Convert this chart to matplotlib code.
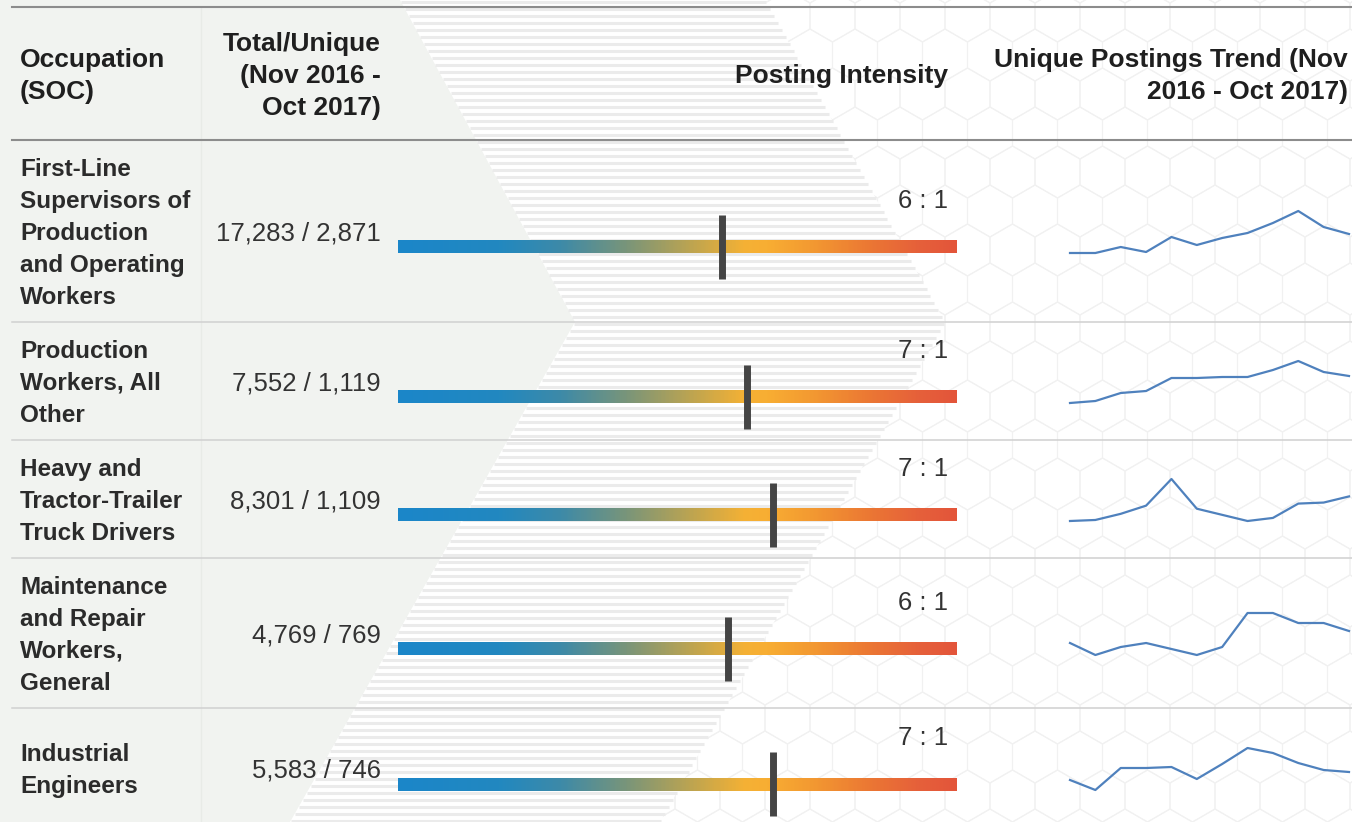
import numpy as np
import matplotlib.pyplot as plt
from matplotlib.colors import LinearSegmentedColormap
from matplotlib.patches import Polygon, RegularPolygon
from matplotlib.collections import PatchCollection

plt.rcParams['font.family'] = ['Liberation Sans', 'DejaVu Sans']

# ---- data ----
occupations = ["First-Line\nSupervisors of\nProduction\nand Operating\nWorkers",
               "Production\nWorkers, All\nOther",
               "Heavy and\nTractor-Trailer\nTruck Drivers",
               "Maintenance\nand Repair\nWorkers,\nGeneral",
               "Industrial\nEngineers"]
total_postings = [17283, 7552, 8301, 4769, 5583]
unique_postings = [2871, 1119, 1109, 769, 746]

months = ['Nov', 'Dec', 'Jan', 'Feb', 'Mar', 'Apr', 'May', 'Jun', 'Jul', 'Aug', 'Sep', 'Oct']
trend_supervisors = [209, 209, 221, 211, 241, 225, 239, 249, 269, 293, 261, 247]
trend_production = [71, 73, 81, 83, 96, 96, 97, 97, 104, 113, 102, 98]
trend_truck = [80, 81, 87, 95, 121, 92, 86, 80, 83, 97, 98, 104]
trend_maintenance = [58, 46, 54, 58, 52, 46, 54, 88, 88, 78, 78, 70]
trend_engineers = [50, 40, 62, 62, 63, 51, 66, 82, 77, 67, 60, 58]
trends = [trend_supervisors, trend_production, trend_truck, trend_maintenance, trend_engineers]

# ---- layout (pixels) ----
W, H = 1352, 822
row_edges = [140, 322, 440, 558, 708, 828]
intensity_limits = (-3.37, 12.82)   # ratio at left / right end of the gradient bar

HEAD = '#1f1f1f'
BODY = '#2b2b2b'
NUM = '#333333'


def px(pt):
    return pt * 100 / 72


def fig_rect(x0, y0, x1, y1):
    return [x0 / W, 1 - y1 / H, (x1 - x0) / W, (y1 - y0) / H]


def label(x, y, s, size, weight='normal', ha='left', color=BODY):
    # y is the visual middle of the capitals
    ax.text(x, y + 0.36 * px(size), s, fontsize=size, fontweight=weight,
            ha=ha, va='baseline', color=color)


fig = plt.figure(figsize=(W / 100, H / 100), dpi=100)
fig.patch.set_facecolor('white')
ax = fig.add_axes([0, 0, 1, 1])
ax.set_xlim(0, W)
ax.set_ylim(H, 0)
ax.axis('off')

# hexagon pattern on the right
hexes = []
for yc in np.arange(172 - 39 * 6, H + 60, 39):
    k = int(round((yc - 172) / 39))
    off = 22.5 if k % 2 == 0 else 0.0
    for xc in np.arange(off + 45 * 13, W + 45, 45):
        hexes.append(RegularPolygon((xc, yc), 6, radius=26, orientation=0))
ax.add_collection(PatchCollection(hexes, facecolor='none', edgecolor='#f1f1f1', linewidth=0.8))

# striped chevron band
ys = [0, 322, 822]
gray_edge = [400, 575, 290]
stripe_edge = [765, 945, 660]
band = list(zip(gray_edge, ys)) + list(zip(stripe_edge[::-1], ys[::-1]))
ax.add_patch(Polygon(band, closed=True, facecolor='white', edgecolor='none'))
for y in np.arange(2, H, 7):
    x0 = np.interp(y, ys, gray_edge)
    x1 = np.interp(y, ys, stripe_edge)
    ax.plot([x0, x1], [y, y], color='#ebebeb', lw=2.2, solid_capstyle='butt')

# solid gray panel on the left
ax.add_patch(Polygon([(0, 0)] + list(zip(gray_edge, ys)) + [(0, H)], closed=True,
                     facecolor='#f1f3f0', edgecolor='none'))
ax.plot([201, 201], [7, H], color='#e8ebe7', lw=1)

# rules
ax.plot([12, W], [7, 7], color='#8c8c8c', lw=1.5)
ax.plot([12, W], [140, 140], color='#8c8c8c', lw=1.5)
for y in row_edges[1:-1]:
    ax.plot([12, W], [y, y], color='#d0d0d0', lw=1.1)

# headers
label(20, 58, 'Occupation', 19, 'bold', color=HEAD)
label(20, 90, '(SOC)', 19, 'bold', color=HEAD)
label(381, 42, 'Total/Unique', 19, 'bold', 'right', HEAD)
label(381, 74, '(Nov 2016 -', 19, 'bold', 'right', HEAD)
label(381, 106, 'Oct 2017)', 19, 'bold', 'right', HEAD)
label(948, 74, 'Posting Intensity', 19, 'bold', 'right', HEAD)
label(1348, 58, 'Unique Postings Trend (Nov', 19, 'bold', 'right', HEAD)
label(1348, 90, '2016 - Oct 2017)', 19, 'bold', 'right', HEAD)

cmap = LinearSegmentedColormap.from_list('intensity', [
    (0.0, '#1b86c9'), (0.18, '#2288c0'), (0.29, '#3d8aa8'), (0.41, '#7a9579'),
    (0.53, '#c0a54f'), (0.62, '#f4b135'), (0.66, '#f8ae33'), (0.74, '#f39a31'),
    (0.85, '#eb7634'), (0.93, '#e6613a'), (1.0, '#e3553a')])
gradient = np.linspace(0, 1, 400).reshape(1, -1)

for i, name in enumerate(occupations):
    center = (row_edges[i] + row_edges[i + 1]) / 2
    bar_y = center + 16
    lines = name.split('\n')
    for j, line in enumerate(lines):
        label(20, center + (j - (len(lines) - 1) / 2) * 32, line, 17.5, 'bold')
    t, u = total_postings[i], unique_postings[i]
    label(381, center, f'{t:,} / {u:,}', 18.5, ha='right', color=NUM)
    ratio = t / u
    label(948, center - 32, f'{round(ratio)} : 1', 18.5, ha='right', color=NUM)

    bax = fig.add_axes(fig_rect(398, bar_y - 34, 957, bar_y + 34))
    bax.imshow(gradient, cmap=cmap, aspect='auto',
               extent=(intensity_limits[0], intensity_limits[1], -6.5, 6.5))
    bax.vlines(ratio, -32, 32, color='#454545', lw=5)
    bax.set_xlim(*intensity_limits)
    bax.set_ylim(-34, 34)
    bax.axis('off')

    sax = fig.add_axes(fig_rect(1070, bar_y - 36, 1349, bar_y + 6))
    sax.plot(range(len(months)), trends[i], color='#4f81bd', lw=1.6, clip_on=False)
    sax.set_xlim(0, len(months) - 1)
    sax.set_ylim(min(trends[i]), max(trends[i]))
    sax.axis('off')

fig.savefig('out.png', dpi=100)
